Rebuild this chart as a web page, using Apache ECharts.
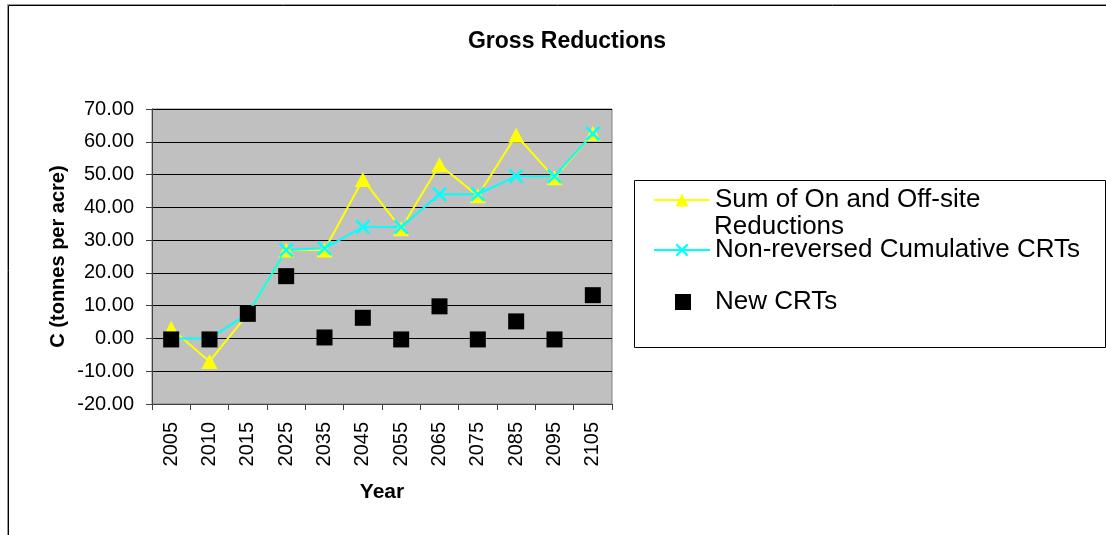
<!DOCTYPE html>
<html lang="en" style="height: 100%">
<head>
  <meta charset="utf-8">
</head>
<body style="height: 100%; margin: 0; background: #fff">
  <div id="container" style="width: 1106px; height: 535px"></div>

  <script type="text/javascript" src="https://cdn.jsdelivr.net/npm/echarts@6/dist/echarts.min.js"></script>

  <script type="text/javascript">
    var dom = document.getElementById('container');
    var myChart = echarts.init(dom, null, { renderer: 'canvas' });
    var option;

    // values
    const years = ['2005', '2010', '2015', '2025', '2035', '2045', '2055', '2065', '2075', '2085', '2095', '2105'];
    const sumReductions = [3, -7, 7.5, 27, 27, 48.5, 33.5, 53, 43.5, 62, 49, 62.5];
    const cumulativeCRTs = [0, 0, 7.5, 27, 27.5, 34, 34, 44, 44, 49.5, 49.5, 62.5];
    const newCRTs = [-0.3, -0.3, 7.5, 19, 0.3, 6.3, -0.3, 9.8, -0.3, 5.2, -0.3, 13.2];

    const sumName = 'Sum of On and Off-site Reductions';
    const cumName = 'Non-reversed Cumulative CRTs';
    const newName = 'New CRTs';

    const font = 'Liberation Sans';
    const crossPath = 'path://M0,1.2L1.2,0L5,3.8L8.8,0L10,1.2L6.2,5L10,8.8L8.8,10L5,6.2L1.2,10L0,8.8L3.8,5Z';

    option = {
      animation: false,
      backgroundColor: '#fff',
      textStyle: { fontFamily: font },
      title: {
        text: 'Gross Reductions',
        left: 562,
        top: 25,
        textAlign: 'center',
        textStyle: { fontSize: 23, fontWeight: 'bold', color: '#000', fontFamily: font }
      },
      graphic: {
        elements: [
          {
            type: 'rect', silent: true,
            shape: { x: 7.5, y: 4.5, width: 1200, height: 600 },
            style: { fill: null, stroke: '#999', lineWidth: 1 }
          },
          {
            type: 'rect', silent: true,
            shape: { x: 8.5, y: 5.5, width: 1200, height: 600 },
            style: { fill: null, stroke: '#000', lineWidth: 1 }
          },
          {
            type: 'rect', silent: true,
            shape: { x: 634.5, y: 180.5, width: 471, height: 167 },
            style: { fill: null, stroke: '#000', lineWidth: 1 }
          },
          {
            // second line of the first legend entry
            type: 'text', silent: true,
            left: 714, top: 214,
            style: { text: 'Reductions', fontSize: 26, fontFamily: font, fill: '#000' }
          }
        ]
      },
      legend: [
        {
          data: [sumName],
          left: 653, top: 186, padding: 0,
          itemWidth: 56, itemHeight: 16,
          formatter: function () { return 'Sum of On and Off-site'; },
          textStyle: { fontSize: 26, lineHeight: 28, color: '#000', fontFamily: font }
        },
        {
          data: [cumName],
          left: 653, top: 236, padding: 0,
          itemWidth: 56, itemHeight: 16,
          textStyle: { fontSize: 26, lineHeight: 28, color: '#000', fontFamily: font }
        },
        {
          data: [newName],
          left: 675, top: 288, padding: 0,
          itemWidth: 16, itemHeight: 16,
          textStyle: { fontSize: 26, lineHeight: 28, color: '#000', fontFamily: font, padding: [0, 0, 0, 19] }
        }
      ],
      grid: {
        left: 152,
        right: 494,
        top: 109,
        bottom: 131,
        show: true,
        backgroundColor: '#c0c0c0',
        borderColor: '#808080',
        borderWidth: 1
      },
      xAxis: {
        type: 'category',
        data: years,
        boundaryGap: true,
        name: 'Year',
        nameLocation: 'middle',
        nameGap: 78,
        nameTextStyle: { fontSize: 21, fontWeight: 'bold', color: '#000', fontFamily: font },
        axisLine: { onZero: false, lineStyle: { color: '#404040', width: 1 } },
        axisTick: { show: true, length: 6, lineStyle: { color: '#404040' } },
        axisLabel: { rotate: 90, margin: 18, fontSize: 20, color: '#000', fontFamily: font },
        splitLine: { show: false }
      },
      yAxis: {
        type: 'value',
        min: -20,
        max: 70,
        interval: 10,
        name: 'C (tonnes per acre)',
        nameLocation: 'middle',
        nameGap: 84,
        nameTextStyle: { fontSize: 20, fontWeight: 'bold', color: '#000', fontFamily: font },
        axisLine: { show: true, lineStyle: { color: '#404040', width: 1 } },
        axisTick: { show: true, length: 6, lineStyle: { color: '#404040' } },
        axisLabel: {
          margin: 18, fontSize: 20, color: '#000', fontFamily: font,
          formatter: function (v) { return v.toFixed(2); }
        },
        splitLine: { show: true, lineStyle: { color: '#000', width: 1 } }
      },
      series: [
        {
          name: sumName,
          type: 'line',
          data: sumReductions,
          symbol: 'triangle',
          symbolSize: [16, 15],
          lineStyle: { color: '#ffff00', width: 2 },
          itemStyle: { color: '#ffff00' }
        },
        {
          name: cumName,
          type: 'line',
          data: cumulativeCRTs,
          symbol: crossPath,
          symbolSize: 15,
          lineStyle: { color: '#00ffff', width: 2 },
          itemStyle: { color: '#00ffff' }
        },
        {
          name: newName,
          type: 'scatter',
          z: 5,
          data: newCRTs,
          symbol: 'rect',
          symbolSize: 16,
          itemStyle: { color: '#000', opacity: 1 }
        }
      ]
    };

    myChart.setOption(option);

    window.addEventListener('resize', myChart.resize);
  </script>
</body>
</html>
